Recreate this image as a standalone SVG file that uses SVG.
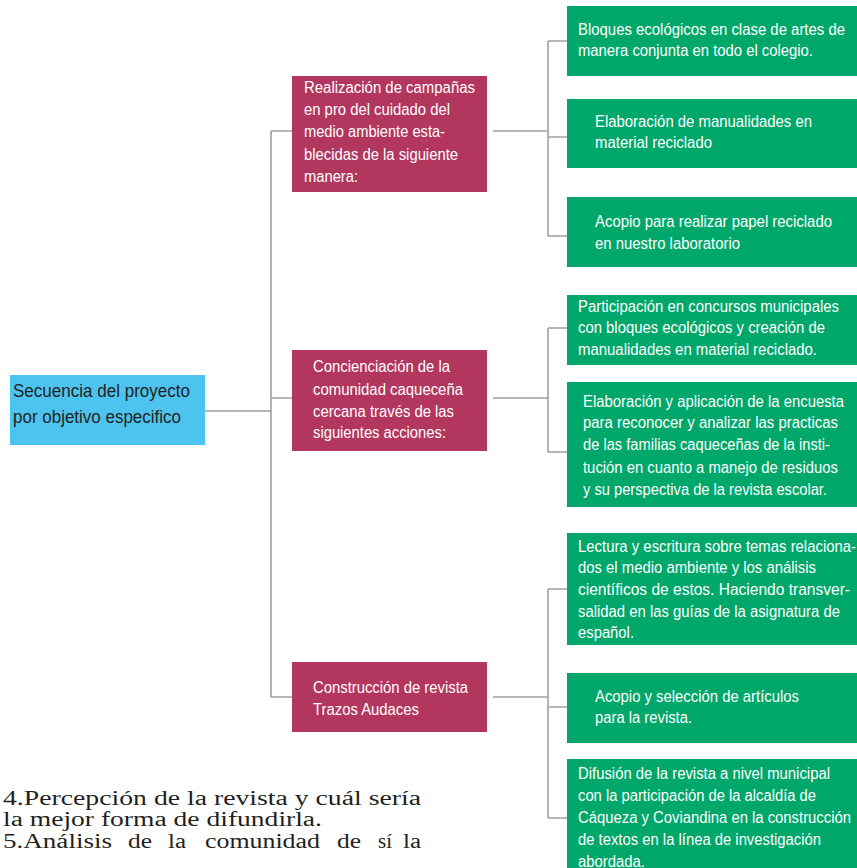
<svg xmlns="http://www.w3.org/2000/svg" width="857" height="868" viewBox="0 0 857 868">
<style>
.bg{fill:#ffffff}
.root{fill:#4dc3f0}
.mid{fill:#b3365e}
.leaf{fill:#00a76a}
.ln{fill:none;stroke:#a0a0a0;stroke-width:1.6}
.t{font-family:"Liberation Sans",Arial,sans-serif;font-size:16px}
.tw{fill:#ffffff}
.tr{font-family:"Liberation Sans",Arial,sans-serif;font-size:17.5px;fill:#231f20}
.body{font-family:"Liberation Serif","Times New Roman",serif;font-size:20px;fill:#231f20}
</style>
<rect class="bg" x="0" y="0" width="857" height="868"/>
<g id="connectors">
<path class="ln" d="M205,411 H271 M271,131 V697 M271,131 H292 M271,398 H292 M271,697 H292"/>
<path class="ln" d="M493,131 H548 M548,41 V236 M548,41 H567 M548,137 H567 M548,236 H567"/>
<path class="ln" d="M493,398 H548 M548,328 V452 M548,328 H567 M548,452 H567"/>
<path class="ln" d="M493,697 H548 M548,589 V818 M548,589 H567 M548,707 H567 M548,818 H567"/>
</g>
<g id="root">
<rect class="root" x="10" y="375" width="195" height="70"/>
<text class="tr"><tspan x="13" y="397" textLength="177" lengthAdjust="spacingAndGlyphs">Secuencia del proyecto</tspan><tspan x="13" y="423" textLength="168" lengthAdjust="spacingAndGlyphs">por objetivo especifico</tspan></text>
</g>
<g id="mid1">
<rect class="mid" x="292" y="76" width="195" height="116"/>
<text class="t tw"><tspan x="304" y="93" textLength="171" lengthAdjust="spacingAndGlyphs">Realización de campañas</tspan><tspan x="304" y="115" textLength="146" lengthAdjust="spacingAndGlyphs">en pro del cuidado del</tspan><tspan x="304" y="137" textLength="141" lengthAdjust="spacingAndGlyphs">medio ambiente esta-</tspan><tspan x="304" y="160" textLength="154" lengthAdjust="spacingAndGlyphs">blecidas de la siguiente</tspan><tspan x="304" y="182" textLength="54" lengthAdjust="spacingAndGlyphs">manera:</tspan></text>
</g>
<g id="mid2">
<rect class="mid" x="292" y="350" width="195" height="101"/>
<text class="t tw"><tspan x="313" y="372" textLength="137" lengthAdjust="spacingAndGlyphs">Concienciación de la</tspan><tspan x="313" y="395" textLength="150" lengthAdjust="spacingAndGlyphs">comunidad caqueceña</tspan><tspan x="313" y="417" textLength="141" lengthAdjust="spacingAndGlyphs">cercana través de las</tspan><tspan x="313" y="438" textLength="133" lengthAdjust="spacingAndGlyphs">siguientes acciones:</tspan></text>
</g>
<g id="mid3">
<rect class="mid" x="292" y="662" width="195" height="70"/>
<text class="t tw"><tspan x="313" y="693" textLength="155" lengthAdjust="spacingAndGlyphs">Construcción de revista</tspan><tspan x="313" y="715" textLength="106" lengthAdjust="spacingAndGlyphs">Trazos Audaces</tspan></text>
</g>
<g id="leaf1">
<rect class="leaf" x="567" y="6" width="290" height="70"/>
<text class="t tw"><tspan x="578" y="35" textLength="267" lengthAdjust="spacingAndGlyphs">Bloques ecológicos en clase de artes de</tspan><tspan x="578" y="56" textLength="235" lengthAdjust="spacingAndGlyphs">manera conjunta en todo el colegio.</tspan></text>
</g>
<g id="leaf2">
<rect class="leaf" x="567" y="99" width="290" height="69"/>
<text class="t tw"><tspan x="595" y="127" textLength="217" lengthAdjust="spacingAndGlyphs">Elaboración de manualidades en</tspan><tspan x="595" y="148" textLength="117" lengthAdjust="spacingAndGlyphs">material reciclado</tspan></text>
</g>
<g id="leaf3">
<rect class="leaf" x="567" y="197" width="290" height="70"/>
<text class="t tw"><tspan x="595" y="227" textLength="237" lengthAdjust="spacingAndGlyphs">Acopio para realizar papel reciclado</tspan><tspan x="595" y="249" textLength="145" lengthAdjust="spacingAndGlyphs">en nuestro laboratorio</tspan></text>
</g>
<g id="leaf4">
<rect class="leaf" x="567" y="295" width="290" height="70"/>
<text class="t tw"><tspan x="578" y="312" textLength="261" lengthAdjust="spacingAndGlyphs">Participación en concursos municipales</tspan><tspan x="578" y="333" textLength="247" lengthAdjust="spacingAndGlyphs">con bloques ecológicos y creación de</tspan><tspan x="578" y="355" textLength="239" lengthAdjust="spacingAndGlyphs">manualidades en material reciclado.</tspan></text>
</g>
<g id="leaf5">
<rect class="leaf" x="567" y="382" width="290" height="125"/>
<text class="t tw"><tspan x="583" y="407" textLength="261" lengthAdjust="spacingAndGlyphs">Elaboración y aplicación de la encuesta</tspan><tspan x="583" y="428" textLength="255" lengthAdjust="spacingAndGlyphs">para reconocer y analizar las practicas</tspan><tspan x="583" y="450" textLength="247" lengthAdjust="spacingAndGlyphs">de las familias caqueceñas de la insti-</tspan><tspan x="583" y="473" textLength="255" lengthAdjust="spacingAndGlyphs">tución en cuanto a manejo de residuos</tspan><tspan x="583" y="495" textLength="244" lengthAdjust="spacingAndGlyphs">y su perspectiva de la revista escolar.</tspan></text>
</g>
<g id="leaf6">
<rect class="leaf" x="567" y="533" width="290" height="112"/>
<text class="t tw"><tspan x="578" y="552" textLength="278" lengthAdjust="spacingAndGlyphs">Lectura y escritura sobre temas relaciona-</tspan><tspan x="578" y="573" textLength="238" lengthAdjust="spacingAndGlyphs">dos el medio ambiente y los análisis</tspan><tspan x="578" y="595" textLength="272" lengthAdjust="spacingAndGlyphs">científicos de estos. Haciendo transver-</tspan><tspan x="578" y="617" textLength="262" lengthAdjust="spacingAndGlyphs">salidad en las guías de la asignatura de</tspan><tspan x="578" y="638" textLength="56" lengthAdjust="spacingAndGlyphs">español.</tspan></text>
</g>
<g id="leaf7">
<rect class="leaf" x="567" y="673" width="290" height="70"/>
<text class="t tw"><tspan x="595" y="702" textLength="204" lengthAdjust="spacingAndGlyphs">Acopio y selección de artículos</tspan><tspan x="595" y="723" textLength="97" lengthAdjust="spacingAndGlyphs">para la revista.</tspan></text>
</g>
<g id="leaf8">
<rect class="leaf" x="567" y="759" width="290" height="109"/>
<text class="t tw"><tspan x="578" y="779" textLength="252" lengthAdjust="spacingAndGlyphs">Difusión de la revista a nivel municipal</tspan><tspan x="578" y="801" textLength="238" lengthAdjust="spacingAndGlyphs">con la participación de la alcaldía de</tspan><tspan x="578" y="823" textLength="273" lengthAdjust="spacingAndGlyphs">Cáqueza y Coviandina en la construcción</tspan><tspan x="578" y="845" textLength="243" lengthAdjust="spacingAndGlyphs">de textos en la línea de investigación</tspan><tspan x="578" y="867" textLength="67" lengthAdjust="spacingAndGlyphs">abordada.</tspan></text>
</g>
<g id="body-text">
<text class="body"><tspan x="3" y="805" textLength="418" lengthAdjust="spacingAndGlyphs">4.Percepción de la revista y cuál sería</tspan><tspan x="3" y="826" textLength="319" lengthAdjust="spacingAndGlyphs">la mejor forma de difundirla.</tspan></text>
<text class="body"><tspan x="3" y="848" textLength="109" lengthAdjust="spacingAndGlyphs">5.Análisis</tspan> <tspan x="128" y="848" textLength="24" lengthAdjust="spacingAndGlyphs">de</tspan> <tspan x="168" y="848" textLength="18" lengthAdjust="spacingAndGlyphs">la</tspan> <tspan x="205" y="848" textLength="115" lengthAdjust="spacingAndGlyphs">comunidad</tspan> <tspan x="337" y="848" textLength="24" lengthAdjust="spacingAndGlyphs">de</tspan> <tspan x="378" y="848" textLength="14" lengthAdjust="spacingAndGlyphs">sí</tspan> <tspan x="403" y="848" textLength="18" lengthAdjust="spacingAndGlyphs">la</tspan></text>
</g>
</svg>
